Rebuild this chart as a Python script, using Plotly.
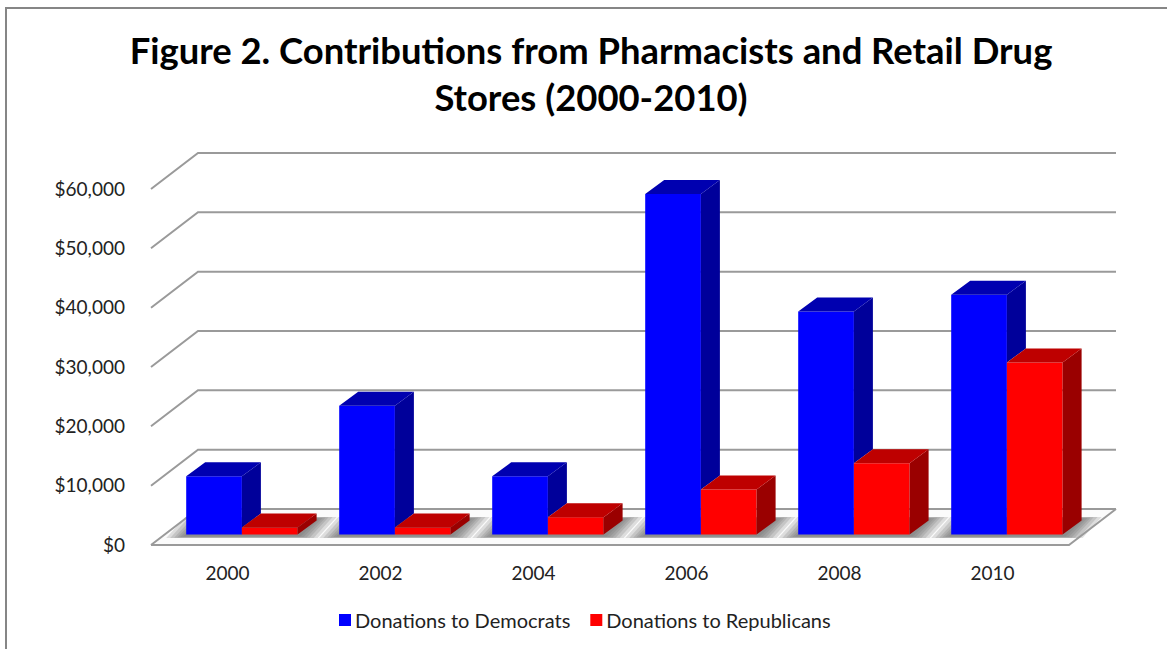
import plotly.graph_objects as go

# ---- data ----
YEARS = ["2000", "2002", "2004", "2006", "2008", "2010"]
DEMOCRATS = [9800, 21700, 9800, 57400, 37600, 40400]
REPUBLICANS = [1200, 1200, 2900, 7600, 12000, 29000]
Y_TICKS = [0, 10000, 20000, 30000, 40000, 50000, 60000]
Y_LABELS = ["$0", "$10,000", "$20,000", "$30,000", "$40,000", "$50,000", "$60,000"]

# ---- pseudo-3D geometry, expressed in axis units ----
W, H = 1167, 649
PX_PER_CAT = 153.0      # pixels per category band
PX_PER_VAL = 356 / 60000
FLOOR_L, FLOOR_B = 151, 545   # pixel position of (0, 0)
PLOT_L, PLOT_R, PLOT_T, PLOT_B = 141, 1127, 143, 555
PAPER_B = 645           # the legend sits inside the paper area, so it pushes no margin


def dx(px):
    return px / PX_PER_CAT


def dy(px):
    return px / PX_PER_VAL


WALL_DX, WALL_DY = dx(47), dy(36)       # depth of the chart box
BAR_DX, BAR_DY = dx(19), dy(14)         # depth of one bar
BASE_DX, BASE_DY = dx(14.4), dy(10.5)   # where the bars stand on the floor
BAR_W = dx(55.7)
GROUP_START = dx(20.8)
N = len(YEARS)

dem_x = [i + GROUP_START + BASE_DX + BAR_W / 2 for i in range(N)]
rep_x = [x + BAR_W for x in dem_x]


def poly_trace(polys, color):
    xs, ys = [], []
    for p in polys:
        xs += [c[0] for c in p] + [p[0][0], None]
        ys += [c[1] for c in p] + [p[0][1], None]
    return go.Scatter(x=xs, y=ys, mode="lines", fill="toself", fillcolor=color,
                      line=dict(width=0, color=color), hoverinfo="skip", showlegend=False)


def top_face(cx, v):
    l, r, y = cx - BAR_W / 2, cx + BAR_W / 2, BASE_DY + v
    return [(l, y), (r, y), (r + BAR_DX, y + BAR_DY), (l + BAR_DX, y + BAR_DY)]


def side_face(cx, v0, v1):
    r = cx + BAR_W / 2
    return [(r, BASE_DY + v0), (r + BAR_DX, BASE_DY + v0 + BAR_DY),
            (r + BAR_DX, BASE_DY + v1 + BAR_DY), (r, BASE_DY + v1)]


fig = go.Figure()
fig.add_bar(x=dem_x, y=DEMOCRATS, base=BASE_DY, width=BAR_W, name="Donations to Democrats",
            marker=dict(color="#0000FF", line=dict(width=0)), hoverinfo="y")
fig.add_bar(x=rep_x, y=REPUBLICANS, base=BASE_DY, width=BAR_W, name="Donations to Republicans",
            marker=dict(color="#FF0000", line=dict(width=0)), hoverinfo="y")

fig.add_trace(poly_trace([side_face(x, r, d) for x, r, d in zip(dem_x, REPUBLICANS, DEMOCRATS)], "#00009A"))
fig.add_trace(poly_trace([top_face(x, d) for x, d in zip(dem_x, DEMOCRATS)], "#0000B0"))
fig.add_trace(poly_trace([side_face(x, 0, r) for x, r in zip(rep_x, REPUBLICANS)], "#9A0000"))
fig.add_trace(poly_trace([top_face(x, r) for x, r in zip(rep_x, REPUBLICANS)], "#BE0000"))

# ---- wall, floor and shadows: always under the marks ----
GRID = "#9A9A9A"
shapes = []


def path(points):
    return "M" + "L".join(f"{a},{b}" for a, b in points) + "Z"


shapes.append(dict(type="path", xref="x", yref="y", layer="below", line=dict(width=0),
                   fillcolor="#FBFBFB",
                   path=path([(0, 0), (N, 0), (N + WALL_DX, WALL_DY), (WALL_DX, WALL_DY)])))

for i in range(N):
    gx0 = i + GROUP_START + BASE_DX
    gx1 = gx0 + 2 * BAR_W
    for s, sy_px in ((20, 3.5), (16, 3.5), (12, 3.2), (9, 3), (6, 2.5), (3, 2)):
        sx, sy = dx(s), dy(sy_px)
        shapes.append(dict(type="path", xref="x", yref="y", layer="below", line=dict(width=0),
                           fillcolor="rgba(105,105,105,0.2)",
                           path=path([(gx0 - sx, BASE_DY - sy),
                                      (gx1 + sx, BASE_DY - sy),
                                      (gx1 + BAR_DX + sx, BASE_DY + BAR_DY + sy),
                                      (gx0 + BAR_DX - sx, BASE_DY + BAR_DY + sy)])))

for t in Y_TICKS:
    shapes.append(dict(type="path", xref="x", yref="y", layer="below",
                       line=dict(color=GRID, width=2),
                       path=f"M0,{t}L{WALL_DX},{t + WALL_DY}L{N + WALL_DX},{t + WALL_DY}"))
shapes.append(dict(type="path", xref="x", yref="y", layer="below", line=dict(color=GRID, width=2),
                   path=f"M0,0L{N},0L{N + WALL_DX},{WALL_DY}"))


# ---- picture frame (top and left edges only) ----
def fx(px):
    return (px - PLOT_L) / (PLOT_R - PLOT_L)


def fy(px):
    return (PAPER_B - px) / (PAPER_B - PLOT_T)


shapes.append(dict(type="path", xref="paper", yref="paper", layer="above",
                   line=dict(color="#868686", width=2),
                   path=f"M{fx(6)},{fy(660)}L{fx(6)},{fy(8)}L{fx(1180)},{fy(8)}"))

FONT = "Lato, 'Open Sans', sans-serif"
fig.update_layout(
    width=W, height=H, autosize=False,
    margin=dict(l=PLOT_L, r=W - PLOT_R, t=PLOT_T, b=H - PAPER_B, pad=0),
    paper_bgcolor="white", plot_bgcolor="rgba(0,0,0,0)",
    barmode="overlay", shapes=shapes, font=dict(family=FONT, color="#222222", size=19),
    title=dict(text="Figure 2. Contributions from Pharmacists and Retail Drug<br>Stores (2000-2010)",
               x=591 / W, xanchor="center", y=1 - 64 / H, yanchor="middle", yref="container",
               font=dict(family=FONT, size=36.4, color="#000000", weight="bold")),
    legend=dict(orientation="h", x=fx(315), xanchor="left", y=fy(620), yanchor="middle",
                font=dict(size=20), bgcolor="rgba(0,0,0,0)", traceorder="normal"),
    xaxis=dict(range=[(PLOT_L - FLOOR_L) / PX_PER_CAT, (PLOT_R - FLOOR_L) / PX_PER_CAT],
               tickvals=[i + 0.5 for i in range(N)], ticktext=YEARS, ticks="", showgrid=False,
               zeroline=False, showline=False, ticklabelstandoff=5, fixedrange=True),
    yaxis=dict(domain=[fy(PLOT_B), 1],
               range=[(FLOOR_B - PLOT_B) / PX_PER_VAL, (FLOOR_B - PLOT_T) / PX_PER_VAL],
               tickvals=Y_TICKS, ticktext=Y_LABELS, ticks="", showgrid=False,
               zeroline=False, showline=False, ticklabelstandoff=15, fixedrange=True),
)

POST = """
document.body.style.margin='0';document.body.style.overflow='hidden';
(function(){
  var gd=document.getElementById('{plot_id}');
  function nudge(){
    gd.querySelectorAll('.legendsymbols').forEach(function(s){s.setAttribute('transform','translate(10,0)');});
    var items=gd.querySelectorAll('.legend .traces');
    if(items.length>1 && !items[1].dataset.nudged){
      var m=/translate\\(([-0-9.]+)[ ,]+([-0-9.]+)\\)/.exec(items[1].getAttribute('transform')||'');
      if(m){items[1].setAttribute('transform','translate('+(parseFloat(m[1])-9)+','+m[2]+')');items[1].dataset.nudged='1';}
    }
  }
  nudge();setTimeout(nudge,0);
  if(gd.on){gd.on('plotly_afterplot',nudge);}
})();
"""
fig.write_html("out.html", post_script=POST, config=dict(displayModeBar=False))
